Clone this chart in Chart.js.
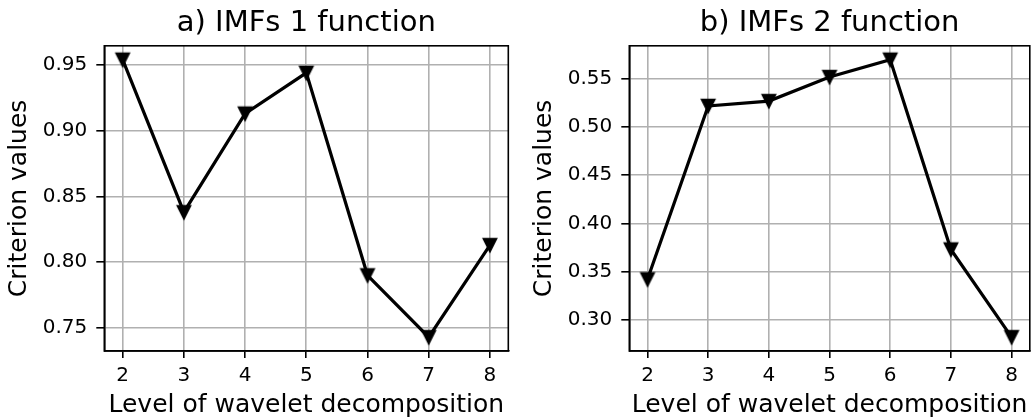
<!DOCTYPE html>
<html>
<head>
<meta charset="utf-8">
<script src="https://cdn.jsdelivr.net/npm/chart.js@4.4.1/dist/chart.umd.min.js"></script>
<style>
  html, body { margin: 0; padding: 0; background: #fff; overflow: hidden; }
  #wrap { position: relative; width: 1032px; height: 420px; overflow: hidden; background: #fff; }
  canvas { position: absolute; top: 0; }
</style>
</head>
<body>
<div id="wrap">
  <canvas id="imf1" width="520" height="420" style="left:0"></canvas>
  <canvas id="imf2" width="520" height="420" style="left:520px"></canvas>
</div>
<script>
// Decomposition levels and criterion values per IMF
const levels = [2, 3, 4, 5, 6, 7, 8];
const imf1Values = [0.954, 0.838, 0.913, 0.944, 0.790, 0.743, 0.813];
const imf2Values = [0.342, 0.522, 0.527, 0.552, 0.570, 0.373, 0.282];
const imf1YTicks = [0.75, 0.80, 0.85, 0.90, 0.95];
const imf2YTicks = [0.30, 0.35, 0.40, 0.45, 0.50, 0.55];
const titles = ['a) IMFs 1 function', 'b) IMFs 2 function'];
const xLabel = 'Level of wavelet decomposition';
const yLabel = 'Criterion values';

const FONT = "'DejaVu Sans', sans-serif";

// Downward triangle marker, drawn once and reused as a point style
function makeMarker() {
  const c = document.createElement('canvas');
  c.width = 20; c.height = 20;
  const g = c.getContext('2d');
  const h = 6.3;
  g.beginPath();
  g.moveTo(10 - h, 10 - h);
  g.lineTo(10 + h, 10 - h);
  g.lineTo(10, 10 + h);
  g.closePath();
  g.fillStyle = '#000';
  g.fill();
  g.lineWidth = 2;
  g.lineJoin = 'miter';
  g.strokeStyle = '#000';
  g.stroke();
  return c;
}
const marker = makeMarker();

// Pad data limits by 5% on each side
function padded(arr) {
  const lo = Math.min(...arr), hi = Math.max(...arr);
  const m = (hi - lo) * 0.05;
  return [lo - m, hi + m];
}

// Full box frame around the plotting area
const frame = {
  id: 'frame',
  afterDatasetsDraw(chart) {
    const a = chart.chartArea, ctx = chart.ctx;
    ctx.save();
    ctx.strokeStyle = '#000';
    ctx.lineWidth = 1.6;
    ctx.strokeRect(a.left, a.top, a.right - a.left, a.bottom - a.top);
    ctx.restore();
  }
};

function build(id, title, values, yTicks, yAxisWidth, rightPad) {
  const [ymin, ymax] = padded(values);
  const [xmin, xmax] = padded(levels);
  new Chart(document.getElementById(id), {
    type: 'line',
    data: {
      datasets: [{
        data: levels.map((x, i) => ({ x, y: values[i] })),
        borderColor: '#000',
        borderWidth: 3.2,
        tension: 0,
        pointStyle: marker,
        pointRadius: 7,
        clip: false
      }]
    },
    options: {
      responsive: false,
      animation: false,
      devicePixelRatio: 1,
      layout: { padding: { left: 0, right: rightPad, top: 0, bottom: 0 } },
      plugins: {
        legend: { display: false },
        tooltip: { enabled: false },
        title: {
          display: true,
          fullSize: false,
          text: title,
          color: '#000',
          font: { family: FONT, size: 29, weight: 'normal' },
          padding: { top: 6, bottom: 5 }
        }
      },
      scales: {
        x: {
          type: 'linear',
          min: xmin, max: xmax,
          afterBuildTicks: s => { s.ticks = levels.map(v => ({ value: v })); },
          afterFit: s => { s.height = 69; },
          ticks: {
            color: '#000',
            font: { family: FONT, size: 20 },
            padding: 6,
            maxRotation: 0,
            callback: v => String(v)
          },
          grid: { color: '#b0b0b0', lineWidth: 1.6, tickColor: '#000', tickWidth: 1.6, tickLength: 7 },
          border: { display: true, color: '#000', width: 1.6 },
          title: {
            display: true, text: xLabel, color: '#000',
            font: { family: FONT, size: 25 },
            padding: { top: 0, bottom: 0 }
          }
        },
        y: {
          type: 'linear',
          min: ymin, max: ymax,
          afterBuildTicks: s => { s.ticks = yTicks.map(v => ({ value: v })); },
          afterFit: s => { s.width = yAxisWidth; },
          ticks: {
            color: '#000',
            font: { family: FONT, size: 20 },
            padding: 9,
            callback: v => v.toFixed(2)
          },
          grid: { color: '#b0b0b0', lineWidth: 1.6, tickColor: '#000', tickWidth: 1.6, tickLength: 8 },
          border: { display: true, color: '#000', width: 1.6 },
          title: {
            display: true, text: yLabel, color: '#000',
            font: { family: FONT, size: 25 },
            padding: { top: yAxisWidth - 99.5, bottom: 0 }
          }
        }
      }
    },
    plugins: [frame]
  });
}

build('imf1', titles[0], imf1Values, imf1YTicks, 104.3, 11.7);
build('imf2', titles[1], imf2Values, imf2YTicks, 109.3, 6.6);
</script>
</body>
</html>
